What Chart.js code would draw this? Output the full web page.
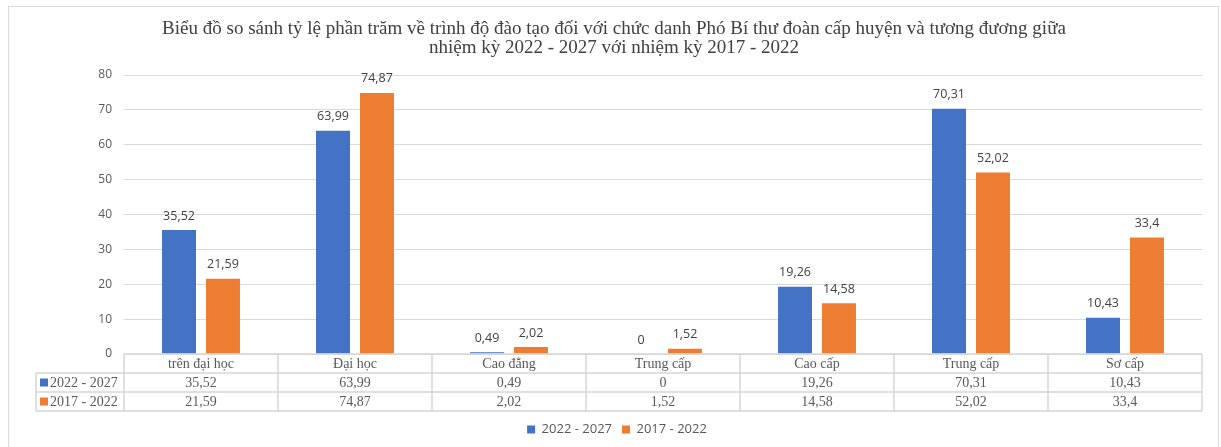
<!DOCTYPE html>
<html>
<head>
<meta charset="utf-8">
<script src="https://cdn.jsdelivr.net/npm/chart.js@4"></script>
<style>
html,body{margin:0;padding:0;background:#fff;}
#wrap{width:1221px;height:447px;position:relative;}
</style>
</head>
<body>
<div id="wrap"><canvas id="c" width="1221" height="447"></canvas></div>
<script>
const titleLines = ['Biểu đồ so sánh tỷ lệ phần trăm về trình độ đào tạo đối với chức danh Phó Bí thư đoàn cấp huyện và tương đương giữa',
                    'nhiệm kỳ 2022 - 2027 với nhiệm kỳ 2017 - 2022'];
const categories = ['trên đại học', 'Đại học', 'Cao đẳng', 'Trung cấp', 'Cao cấp', 'Trung cấp', 'Sơ cấp'];
const seriesNames = ['2022 - 2027', '2017 - 2022'];
const values2022 = [35.52, 63.99, 0.49, 0, 19.26, 70.31, 10.43];
const values2017 = [21.59, 74.87, 2.02, 1.52, 14.58, 52.02, 33.4];
const yTicks = [0, 10, 20, 30, 40, 50, 60, 70, 80];

const BLUE = '#4472C4', ORANGE = '#ED7D31';
const fmt = v => String(v).replace('.', ',');
const SERIF = '"Liberation Serif", "Times New Roman", serif';
const SANS = '"Open Sans", "Liberation Sans", sans-serif';

const framePlugin = {
  id: 'frameTitle',
  beforeDraw(chart) {
    const ctx = chart.ctx;
    ctx.save();
    ctx.strokeStyle = '#d9d9d9';
    ctx.lineWidth = 1;
    ctx.strokeRect(8.5, 6.5, 1210, 460);
    ctx.fillStyle = '#404040';
    ctx.font = '19px ' + SERIF;
    ctx.textAlign = 'center';
    ctx.textBaseline = 'middle';
    ctx.fillText(titleLines[0], 614, 29);
    ctx.fillText(titleLines[1], 614, 48);
    ctx.restore();
    // shift legend to match reference placement
    const lg = chart.legend;
    if (lg && !lg._shifted) {
      lg.left += 16; lg.right += 16; lg.top += 2; lg.bottom += 2;
      lg._shifted = true;
    }
  }
};

const labelsPlugin = {
  id: 'dataLabels',
  afterDatasetsDraw(chart) {
    const ctx = chart.ctx;
    ctx.save();
    ctx.fillStyle = '#404040';
    ctx.font = '12.5px ' + SANS;
    ctx.textAlign = 'center';
    ctx.textBaseline = 'middle';
    chart.data.datasets.forEach((ds, di) => {
      chart.getDatasetMeta(di).data.forEach((bar, i) => {
        ctx.fillText(fmt(ds.data[i]), bar.x, bar.y - 14);
      });
    });
    ctx.restore();
  }
};

const tablePlugin = {
  id: 'dataTable',
  afterDraw(chart) {
    const ctx = chart.ctx;
    const xs = chart.scales.x;
    const area = chart.chartArea;
    const n = categories.length;
    const cw = (area.right - area.left) / n;
    const rowH = 19;
    const top = area.bottom;
    const labLeft = 36;
    ctx.save();
    ctx.strokeStyle = '#d6d6d6';
    ctx.lineWidth = 1.5;
    ctx.beginPath();
    ctx.moveTo(area.left, top); ctx.lineTo(area.right, top);
    for (let r = 1; r <= 3; r++) {
      ctx.moveTo(labLeft, top + r * rowH); ctx.lineTo(area.right, top + r * rowH);
    }
    for (let i = 0; i <= n; i++) {
      const x = area.left + i * cw;
      ctx.moveTo(x, top); ctx.lineTo(x, top + 3 * rowH);
    }
    ctx.moveTo(labLeft, top + rowH); ctx.lineTo(labLeft, top + 3 * rowH);
    ctx.stroke();

    ctx.fillStyle = '#595959';
    ctx.font = '14px ' + SERIF;
    ctx.textAlign = 'center';
    ctx.textBaseline = 'middle';
    categories.forEach((c, i) => {
      const cx = xs.getPixelForValue(i);
      ctx.fillText(c, cx, top + rowH * 0.5 + 1);
      ctx.fillText(fmt(values2022[i]), cx, top + rowH * 1.5 + 1);
      ctx.fillText(fmt(values2017[i]), cx, top + rowH * 2.5 + 1);
    });
    const cols = [BLUE, ORANGE];
    seriesNames.forEach((s, k) => {
      const cy = top + rowH * (1.5 + k);
      ctx.fillStyle = cols[k];
      ctx.fillRect(40, cy - 4, 8, 8);
      ctx.fillStyle = '#595959';
      ctx.textAlign = 'left';
      ctx.fillText(s, 50, cy + 1);
    });
    ctx.restore();
  }
};

new Chart(document.getElementById('c'), {
  type: 'bar',
  data: {
    labels: categories,
    datasets: [
      { label: seriesNames[0], data: values2022, backgroundColor: BLUE, categoryPercentage: 0.571, barPercentage: 0.773 },
      { label: seriesNames[1], data: values2017, backgroundColor: ORANGE, categoryPercentage: 0.571, barPercentage: 0.773 }
    ]
  },
  options: {
    responsive: false,
    animation: false,
    layout: { padding: { top: 75, right: 19, bottom: 3, left: 0 } },
    plugins: {
      title: { display: false },
      tooltip: { enabled: false },
      legend: {
        position: 'bottom',
        labels: {
          boxWidth: 8, boxHeight: 8, padding: 10,
          color: '#595959',
          font: { family: SANS, size: 13 }
        }
      }
    },
    scales: {
      x: {
        grid: { display: false, drawTicks: false },
        border: { display: false },
        ticks: { display: false },
        afterFit(s) { s.height = 57; }
      },
      y: {
        min: 0, max: 80,
        afterBuildTicks(s) { s.ticks = yTicks.map(v => ({ value: v })); },
        afterFit(s) { s.width = 124; },
        grid: { color: '#d9d9d9', drawTicks: false, lineWidth: 1 },
        border: { display: false },
        ticks: { color: '#595959', padding: 12, font: { family: SANS, size: 12 } }
      }
    }
  },
  plugins: [framePlugin, labelsPlugin, tablePlugin]
});
</script>
</body>
</html>
